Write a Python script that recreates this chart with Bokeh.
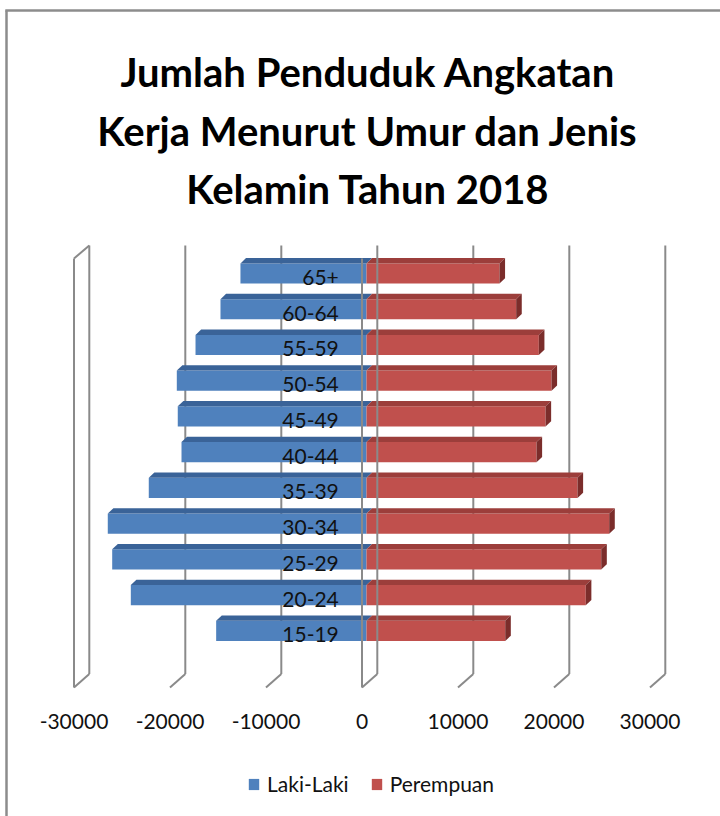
import numpy as np
from bokeh.plotting import figure
from bokeh.models import (Range1d, LinearAxis, FixedTicker, NumeralTickFormatter,
                          Legend, LegendItem)
from bokeh.core.properties import value
from bokeh.embed import file_html
from bokeh.resources import INLINE

# ---------------- data ----------------
categories = ["15-19", "20-24", "25-29", "30-34", "35-39", "40-44",
              "45-49", "50-54", "55-59", "60-64", "65+"]
laki_laki = [15660, 24550, 26490, 26950, 22680, 19270, 19660, 19760, 17810, 15210, 13130]
perempuan = [14450, 22840, 24450, 25280, 21980, 17710, 18650, 19270, 17950, 15590, 13850]
x_ticks = [-30000, -20000, -10000, 0, 10000, 20000, 30000]
series_names = ["Laki-Laki", "Perempuan"]
title_lines = ["Jumlah Penduduk Angkatan", "Kerja Menurut Umur dan Jenis", "Kelamin Tahun 2018"]

# ---------------- geometry (pixels) ----------------
W, H = 720, 816
PPU = 0.0096          # px per unit on x
ZERO_PX = 361.5       # px of value 0 (front plane)
ROW_PX = 35.74        # px between categories
CAT0_PY = 630.4       # px (from top) of first category centre


def X(px):
    return (px - ZERO_PX) / PPU


def Y(py):
    return (CAT0_PY - py) / ROW_PX


def dxu(px):
    return px / PPU


def dyu(px):
    return px / ROW_PX


BACK_DX = 15.3
BACK_TOP, BACK_BOT = 245, 673.5
FRONT_TOP, FRONT_BOT = 258, 687
BAR_X0 = 4.5
BAR_HALF = 10.1
DEP_DX, DEP_DY = 5.6, 5.3

GRID = "#8a8a8a"
BLUE, BLUE_TOP = "#4F81BD", "#3A6398"
RED, RED_TOP, RED_SIDE = "#C0504D", "#9C3E3B", "#7B2D2B"
FONT = "Lato"

p = figure(width=W, height=H, x_range=Range1d(X(0), X(W)), y_range=Range1d(Y(H), Y(0)),
           x_axis_type=None, y_axis_type=None, toolbar_location=None,
           output_backend="svg", min_border=0, outline_line_color=None,
           background_fill_color="white", border_fill_color="white")

# chart border (top & left)
p.segment(x0=[X(4.8), X(6)], y0=[Y(10), Y(10)], x1=[X(W), X(6)], y1=[Y(10), Y(H)],
          line_color="#8c8c8c", line_width=2.5)

# back gridlines and floor feet
bx0, by0, bx1, by1 = [], [], [], []
for v in x_ticks:
    if v == 0:
        continue
    b = v + dxu(BACK_DX)
    bx0 += [b, b]
    by0 += [Y(BACK_TOP), Y(BACK_BOT)]
    bx1 += [b, v]
    by1 += [Y(BACK_BOT), Y(FRONT_BOT)]
# left side wall
w = x_ticks[0]
bx0 += [w, w]
by0 += [Y(FRONT_TOP), Y(FRONT_TOP)]
bx1 += [w, w + dxu(BACK_DX)]
by1 += [Y(FRONT_BOT), Y(BACK_TOP)]
p.segment(x0=bx0, y0=by0, x1=bx1, y1=by1, line_color=GRID, line_width=2)

# bars
k = np.arange(len(categories), dtype=float)
lv = np.array(laki_laki, dtype=float)
pv = np.array(perempuan, dtype=float)
z = dxu(BAR_X0)
yt = k + dyu(BAR_HALF)
yb = k - dyu(BAR_HALF)
ddx, ddy = dxu(DEP_DX), dyu(DEP_DY)

blue_r = p.quad(left=z - lv, right=np.full_like(lv, z), bottom=yb, top=yt,
                fill_color=BLUE, line_color=None)
p.patches(xs=[[z - a, z, z + ddx, z - a + ddx] for a in lv],
          ys=[[t, t, t + ddy, t + ddy] for t in yt],
          fill_color=BLUE_TOP, line_color=None)

red_r = p.quad(left=np.full_like(pv, z), right=z + pv, bottom=yb, top=yt,
               fill_color=RED, line_color=None)
p.patches(xs=[[z, z + a, z + a + ddx, z + ddx] for a in pv],
          ys=[[t, t, t + ddy, t + ddy] for t in yt],
          fill_color=RED_TOP, line_color=None)
p.patches(xs=[[z + a, z + a + ddx, z + a + ddx, z + a] for a in pv],
          ys=[[t, t + ddy, b + ddy, b] for t, b in zip(yt, yb)],
          fill_color=RED_SIDE, line_color=None)

# zero wall lines (drawn over bars)
zb = dxu(BACK_DX)
p.segment(x0=[0, zb, zb], y0=[Y(FRONT_TOP), Y(BACK_TOP), Y(BACK_BOT)],
          x1=[0, zb, 0], y1=[Y(FRONT_BOT), Y(BACK_BOT), Y(FRONT_BOT)],
          line_color=GRID, line_width=2)

# category labels
p.text(x=np.full_like(k, dxu(-23.2)), y=k - dyu(4), text=categories,
       text_align="right", text_baseline="middle", text_color="#111111",
       text_font=value(FONT), text_font_size=value("21px"))

# title
p.text(x=[X(367.5)] * 3, y=[Y(71.5), Y(130.5), Y(188)], text=title_lines,
       text_align="center", text_baseline="middle", text_color="#000000",
       text_font=value(FONT), text_font_style="bold", text_font_size=value("40px"))

# value axis
ax = LinearAxis(ticker=FixedTicker(ticks=x_ticks),
                formatter=NumeralTickFormatter(format="0"),
                fixed_location=Y(711), major_label_standoff=2,
                axis_line_color=None, major_tick_line_color=None,
                minor_tick_line_color=None, major_tick_out=0, major_tick_in=0,
                major_label_text_font=FONT, major_label_text_font_size="21px",
                major_label_text_color="#111111")
p.add_layout(ax, "below")

legend = Legend(items=[LegendItem(label=series_names[0], renderers=[blue_r]),
                       LegendItem(label=series_names[1], renderers=[red_r])],
                orientation="horizontal", location=(247, 20),
                glyph_width=13, glyph_height=14, label_standoff=7, spacing=21,
                padding=0, margin=0, border_line_color=None, background_fill_alpha=0,
                label_text_font=FONT, label_text_font_size="21px",
                label_text_color="#111111")
p.add_layout(legend)

open("out.html", "w").write(file_html(p, INLINE))
